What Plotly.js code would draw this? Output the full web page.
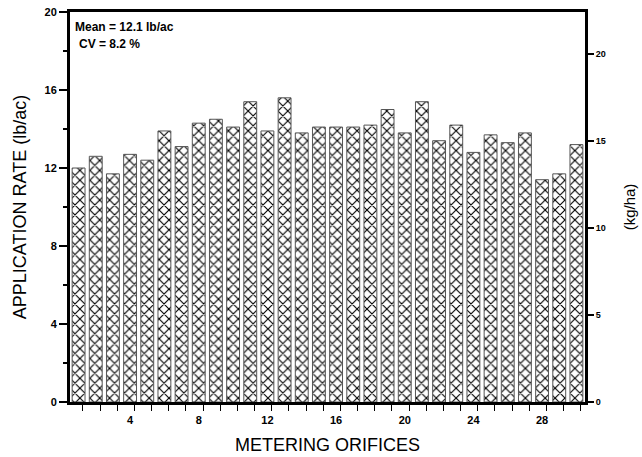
<!DOCTYPE html>
<html>
<head>
<meta charset="utf-8">
<script src="https://cdn.plot.ly/plotly-3.0.1.min.js"></script>
<style>html,body{margin:0;padding:0;background:#fff;}#chart{width:642px;height:457px;}</style>
</head>
<body>
<div id="chart"></div>
<script>
// Data
var orifices = [1,2,3,4,5,6,7,8,9,10,11,12,13,14,15,16,17,18,19,20,21,22,23,24,25,26,27,28,29,30];
var rates = [12.0,12.6,11.7,12.7,12.4,13.9,13.1,14.3,14.5,14.1,15.4,13.9,15.6,13.8,14.1,14.1,14.1,14.2,15.0,13.8,15.4,13.4,14.2,12.8,13.7,13.3,13.8,11.4,11.7,13.2];
var xTickVals = [4,8,12,16,20,24,28];
var yTickVals = [0,4,8,12,16,20];
var y2TickVals = [0,5,10,15,20];
var lbPerAcToKgPerHa = 1.12085;
var meanText = "Mean = 12.1 lb/ac";
var cvText = "CV = 8.2 %";

var FONT = "Liberation Sans, Arial, Helvetica, sans-serif";

var traces = [{
  type: "bar",
  x: orifices,
  y: rates,
  width: 0.75,
  marker: {
    color: "#ffffff",
    line: {color: "#555555", width: 1},
    pattern: {shape: "x", fgcolor: "#000000", bgcolor: "#ffffff", size: 7, solidity: 0.3}
  },
  hoverinfo: "skip",
  showlegend: false
}, {
  type: "scatter",
  mode: "markers",
  x: orifices,
  y: rates.map(function(v){return v * lbPerAcToKgPerHa;}),
  yaxis: "y2",
  marker: {opacity: 0, size: 1},
  hoverinfo: "skip",
  showlegend: false
}];

var layout = {
  width: 642,
  height: 457,
  margin: {l: 70, r: 57, t: 12, b: 55},
  paper_bgcolor: "#ffffff",
  plot_bgcolor: "#ffffff",
  font: {family: FONT, color: "#000"},
  xaxis: {
    range: [0.5, 30.5],
    tickvals: xTickVals,
    ticktext: xTickVals.map(String),
    ticks: "outside",
    ticklen: 6,
    tickcolor: "rgba(0,0,0,0)",
    tickfont: {family: FONT, size: 11, weight: "bold", color: "#000"},
    minor: {ticks: "outside", ticklen: 6, tickwidth: 1, tickcolor: "#000", tick0: 0.25, dtick: 1, showgrid: false},
    showline: true,
    linecolor: "#000",
    linewidth: 3,
    mirror: true,
    showgrid: false,
    zeroline: false,
    fixedrange: true,
    title: {text: "METERING ORIFICES", font: {family: FONT, size: 18, color: "#000"}, standoff: 14}
  },
  yaxis: {
    range: [0, 20],
    tickvals: yTickVals,
    ticks: "outside",
    ticklen: 8,
    tickwidth: 2,
    tickcolor: "#000",
    tickfont: {family: FONT, size: 11, weight: "bold", color: "#000"},
    minor: {ticks: "outside", ticklen: 4, tickwidth: 2, tickcolor: "#000", dtick: 2, showgrid: false},
    showline: true,
    linecolor: "#000",
    linewidth: 3,
    showgrid: false,
    zeroline: false,
    fixedrange: true,
    title: {text: "APPLICATION RATE (lb/ac)", font: {family: FONT, size: 18, color: "#000"}, standoff: 14}
  },
  yaxis2: {
    overlaying: "y",
    side: "right",
    range: [0, 20 * lbPerAcToKgPerHa],
    tickvals: y2TickVals,
    ticks: "outside",
    ticklen: 6,
    tickwidth: 2.5,
    tickcolor: "#000",
    tickfont: {family: FONT, size: 9, weight: "bold", color: "#000"},
    showline: true,
    linecolor: "#000",
    linewidth: 3,
    showgrid: false,
    zeroline: false,
    fixedrange: true,
    title: {text: "(kg/ha)", font: {family: FONT, size: 15, color: "#000"}, standoff: 20}
  },
  annotations: [
    {xref: "paper", yref: "paper", x: 0.006, y: 0.962, xanchor: "left", yanchor: "middle",
     text: "<b>" + meanText + "</b>", showarrow: false, font: {family: FONT, size: 12, color: "#000"}},
    {xref: "paper", yref: "paper", x: 0.014, y: 0.918, xanchor: "left", yanchor: "middle",
     text: "<b>" + cvText + "</b>", showarrow: false, font: {family: FONT, size: 12, color: "#000"}}
  ]
};

Plotly.newPlot("chart", traces, layout, {displayModeBar: false, staticPlot: true});
</script>
</body>
</html>
